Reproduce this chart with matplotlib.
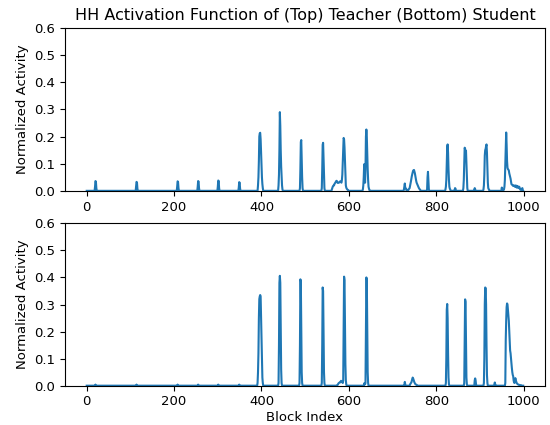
import numpy as np
import matplotlib
matplotlib.use("Agg")
import matplotlib.pyplot as plt

n_blocks = 1000

# Teacher (top): runs of consecutive non-zero activations (start block, values)
teacher_starts = [19, 113, 207, 254, 300, 348, 392, 439, 488, 538, 561, 632,
                  726, 736, 779, 821, 842, 862, 887, 908, 950]
teacher_runs = [
    [0.015, 0.036, 0.034, 0.010],
    [0.015, 0.033, 0.031, 0.008],
    [0.015, 0.035, 0.033, 0.010],
    [0.015, 0.036, 0.034, 0.010],
    [0.015, 0.038, 0.036, 0.010],
    [0.012, 0.032, 0.030, 0.008],
    [0.020, 0.050, 0.110, 0.200, 0.212, 0.214, 0.190, 0.140, 0.090, 0.050, 0.025, 0.010],
    [0.020, 0.060, 0.150, 0.290, 0.240, 0.150, 0.090, 0.050, 0.020, 0.005],
    [0.010, 0.080, 0.180, 0.187, 0.120, 0.050, 0.010],
    [0.010, 0.080, 0.170, 0.177, 0.120, 0.050, 0.010],
    [0.005, 0.010, 0.015, 0.018, 0.020, 0.020, 0.025, 0.028, 0.030, 0.033,
     0.036, 0.037, 0.034, 0.030, 0.029, 0.030, 0.030, 0.031, 0.033, 0.035,
     0.034, 0.032, 0.030, 0.040, 0.060, 0.100, 0.150, 0.195, 0.190, 0.160,
     0.110, 0.060, 0.020, 0.012, 0.008, 0.006, 0.004, 0.003],
    [0.005, 0.020, 0.050, 0.098, 0.060, 0.030, 0.080, 0.200, 0.226, 0.200,
     0.140, 0.080, 0.040, 0.015, 0.008, 0.003],
    [0.005, 0.015, 0.027, 0.010, 0.009, 0.008],
    [0.003, 0.006, 0.008, 0.010, 0.018, 0.025, 0.035, 0.045, 0.054, 0.062,
     0.068, 0.074, 0.076, 0.077, 0.071, 0.065, 0.055, 0.045, 0.037, 0.030,
     0.026, 0.022, 0.018, 0.015, 0.011, 0.008, 0.006, 0.004],
    [0.005, 0.050, 0.070, 0.040, 0.005],
    [0.005, 0.015, 0.040, 0.100, 0.160, 0.171, 0.140, 0.080, 0.040, 0.015, 0.008, 0.005],
    [0.003, 0.010, 0.008],
    [0.010, 0.040, 0.100, 0.159, 0.155, 0.140, 0.148, 0.100, 0.040, 0.010],
    [0.004, 0.010, 0.006],
    [0.005, 0.020, 0.060, 0.130, 0.150, 0.155, 0.165, 0.171, 0.140, 0.080,
     0.030, 0.010, 0.006, 0.003],
    [0.012, 0.003, 0.002, 0.002, 0.003, 0.005, 0.015, 0.040, 0.100, 0.160,
     0.215, 0.170, 0.110, 0.085, 0.080, 0.078, 0.075, 0.065, 0.058, 0.050,
     0.045, 0.035, 0.025, 0.023, 0.022, 0.020, 0.018, 0.019, 0.020, 0.017,
     0.015, 0.017, 0.020, 0.016, 0.012, 0.015, 0.018, 0.014, 0.010, 0.012,
     0.015, 0.010, 0.005, 0.004, 0.003, 0.005, 0.008, 0.010, 0.003],
]

# Student (bottom): runs of consecutive non-zero activations
student_starts = [20, 114, 208, 255, 301, 349, 391, 439, 487, 538, 574, 635,
                  727, 740, 822, 864, 888, 909, 933, 958]
student_runs = [
    [0.004], [0.004], [0.004], [0.004], [0.004], [0.004],
    [0.010, 0.050, 0.120, 0.250, 0.320, 0.330, 0.335, 0.330, 0.250, 0.150, 0.080, 0.030, 0.010],
    [0.010, 0.150, 0.380, 0.406, 0.380, 0.200, 0.060, 0.010],
    [0.010, 0.150, 0.393, 0.385, 0.200, 0.050, 0.010],
    [0.010, 0.150, 0.363, 0.350, 0.200, 0.050, 0.010],
    [0.003, 0.005, 0.008, 0.010, 0.011, 0.012, 0.012, 0.015, 0.018, 0.017,
     0.015, 0.012, 0.010, 0.020, 0.200, 0.403, 0.390, 0.250, 0.080, 0.020, 0.005],
    [0.008, 0.010, 0.005, 0.010, 0.200, 0.400, 0.390, 0.200, 0.050, 0.010],
    [0.003, 0.014, 0.005],
    [0.005, 0.007, 0.010, 0.012, 0.018, 0.025, 0.030, 0.027, 0.022, 0.016,
     0.012, 0.009, 0.006, 0.005, 0.004, 0.003],
    [0.010, 0.100, 0.280, 0.302, 0.250, 0.120, 0.030, 0.005],
    [0.010, 0.150, 0.319, 0.310, 0.150, 0.030, 0.005],
    [0.020, 0.027, 0.020, 0.005],
    [0.010, 0.100, 0.300, 0.363, 0.360, 0.300, 0.150, 0.040, 0.010],
    [0.005, 0.012, 0.004],
    [0.010, 0.170, 0.240, 0.290, 0.304, 0.300, 0.280, 0.260, 0.240, 0.200,
     0.160, 0.130, 0.120, 0.100, 0.080, 0.065, 0.050, 0.040, 0.035, 0.020,
     0.012, 0.010, 0.018, 0.028, 0.020, 0.015, 0.010, 0.008, 0.006, 0.005,
     0.004, 0.003, 0.003, 0.002, 0.002, 0.002, 0.002],
]

title = "HH Activation Function of (Top) Teacher (Bottom) Student"
ylabel = "Normalized Activity"
xlabel = "Block Index"
xticks = [0, 200, 400, 600, 800, 1000]
yticks = [0.0, 0.1, 0.2, 0.3, 0.4, 0.5, 0.6]


def build(starts, runs):
    arr = np.zeros(n_blocks)
    for s, r in zip(starts, runs):
        arr[s:s + len(r)] = r
    return arr


teacher = build(teacher_starts, teacher_runs)
student = build(student_starts, student_runs)
x = np.arange(n_blocks)

fig = plt.figure(figsize=(5.5, 4.25), dpi=100)
ax1 = fig.add_axes([0.118, 0.551, 0.873, 0.383])
ax2 = fig.add_axes([0.118, 0.0925, 0.873, 0.382])

for ax, y in ((ax1, teacher), (ax2, student)):
    ax.plot(x, y, color="#1f77b4", linewidth=1.5)
    ax.set_ylim(0, 0.6)
    ax.set_yticks(yticks)
    ax.set_xticks(xticks)
    ax.set_ylabel(ylabel, fontsize=9.5)
    ax.tick_params(labelsize=9.5)

ax1.set_title(title, fontsize=11.5)
ax2.set_xlabel(xlabel, fontsize=9.5, labelpad=2)

fig.savefig("out.png", dpi=100)
